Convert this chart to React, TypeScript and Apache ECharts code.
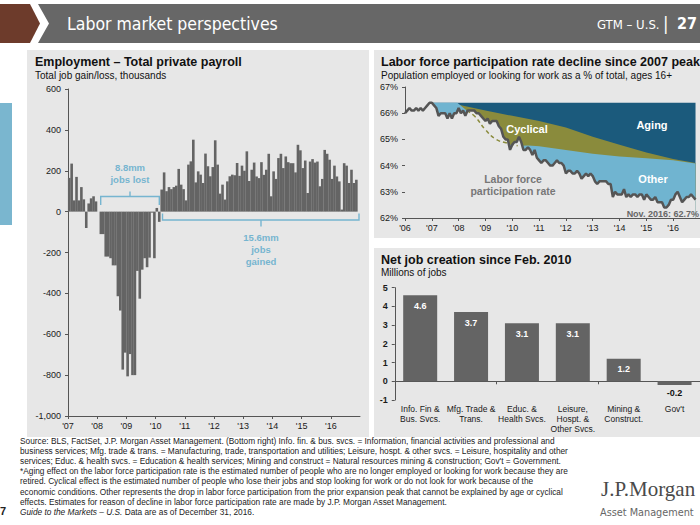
import React, { useEffect, useRef } from "react";
import * as echarts from "echarts";

// ---------- Employment: total private payroll, monthly change (thousands) ----------
const payroll2007 = [165, 235, 55, 170, 55, 120, 60, -80, 40, 65, 75, 50];
const payroll2008 = [0, -110, -110, -220, -220, -228, -263, -263, -414, -484, -773, -690];
const payroll2009 = [-806, -697, -800, -800, -290, -426, -284, -228, -272, -225, -5, -228];
const payroll2010 = [18, -50, 108, 192, 100, 120, 110, 120, 127, 209, 132, 110];
const payroll2011 = [55, 230, 246, 352, 143, 197, 181, 140, 284, 222, 173, 218];
const payroll2012 = [349, 230, 88, 132, 59, 148, 173, 181, 178, 238, 175, 225];
const payroll2013 = [200, 295, 150, 205, 240, 172, 164, 242, 180, 205, 283, 75];
const payroll2014 = [197, 160, 262, 283, 213, 270, 242, 237, 237, 192, 327, 300];
const payroll2015 = [213, 250, 91, 245, 257, 240, 245, 124, 160, 302, 283, 254];
const payroll2016 = [160, 225, 172, 148, 10, 237, 225, 140, 205, 140, 156];
const payrollStartYear = 2007;

// ---------- Labor force participation rate, monthly (%) ----------
const lfpr2006 = [66.0, 66.1, 66.2, 66.1, 66.1, 66.2, 66.1, 66.2, 66.1, 66.2, 66.3, 66.4];
const lfpr2007 = [66.4, 66.3, 66.2, 65.9, 66.0, 66.0, 66.0, 65.8, 66.0, 65.8, 66.0, 66.0];
const lfpr2008 = [66.2, 66.0, 66.1, 65.9, 66.1, 66.1, 66.1, 66.1, 66.0, 66.0, 65.9, 65.8];
const lfpr2009 = [65.7, 65.8, 65.6, 65.7, 65.7, 65.7, 65.5, 65.4, 65.1, 65.0, 65.0, 64.6];
const lfpr2010 = [64.8, 64.9, 64.9, 65.1, 64.9, 64.6, 64.6, 64.7, 64.6, 64.4, 64.6, 64.3];
const lfpr2011 = [64.2, 64.1, 64.2, 64.2, 64.1, 64.0, 64.0, 64.1, 64.2, 64.1, 64.1, 64.0];
const lfpr2012 = [63.7, 63.8, 63.8, 63.7, 63.7, 63.8, 63.7, 63.5, 63.6, 63.7, 63.6, 63.7];
const lfpr2013 = [63.6, 63.4, 63.3, 63.4, 63.4, 63.4, 63.4, 63.3, 63.3, 62.8, 63.0, 62.9];
const lfpr2014 = [62.9, 62.9, 63.1, 62.8, 62.9, 62.8, 62.9, 62.9, 62.8, 62.9, 62.9, 62.7];
const lfpr2015 = [62.9, 62.8, 62.7, 62.7, 62.8, 62.6, 62.6, 62.6, 62.4, 62.4, 62.5, 62.7];
const lfpr2016 = [62.7, 62.9, 63.0, 62.8, 62.6, 62.7, 62.8, 62.8, 62.9, 62.8, 62.7];
const lfprStartYear = 2006;

// boundary between "Aging" and "Cyclical" (year, %)
const agingX = [2007.0, 2008.0, 2009.0, 2010.0, 2011.0, 2012.0, 2013.0, 2014.0, 2015.0, 2016.0, 2016.83];
const agingY = [66.4, 66.32, 66.1, 65.9, 65.7, 65.45, 65.1, 64.8, 64.5, 64.25, 64.1];
// boundary between "Cyclical" and "Other" (year, %)
const cyclicalX = [2007.0, 2007.95, 2008.3, 2008.6, 2009.0, 2009.4, 2009.8, 2010.2, 2010.6, 2011.0, 2012.0, 2013.0, 2014.0, 2015.0, 2016.0, 2016.83];
const cyclicalY = [66.4, 66.4, 66.1, 65.88, 65.37, 65.0, 64.86, 64.76, 64.77, 64.74, 64.6, 64.45, 64.35, 64.28, 64.2, 64.08];

// ---------- Net job creation since Feb. 2010 (millions) ----------
const sectorLabels = [
  "Info. Fin &\nBus. Svcs.",
  "Mfg. Trade &\nTrans.",
  "Educ. &\nHealth Svcs.",
  "Leisure,\nHospt. &\nOther Svcs.",
  "Mining &\nConstruct.",
  "Gov't",
];
const sectorValues = [4.6, 3.7, 3.1, 3.1, 1.2, -0.2];

const footerLines = [
  "Source: BLS, FactSet, J.P. Morgan Asset Management. (Bottom right) Info. fin. & bus. svcs. = Information, financial activities and professional and",
  "business services; Mfg. trade & trans. = Manufacturing, trade, transportation and utilities; Leisure, hospt. & other svcs. = Leisure, hospitality and other",
  "services; Educ. & health svcs. = Education & health services; Mining and construct = Natural resources mining & construction; Gov't = Government.",
  "*Aging effect on the labor force participation rate is the estimated number of people who are no longer employed or looking for work because they are",
  "retired. Cyclical effect is the estimated number of people who lose their jobs and stop looking for work or do not look for work because of the",
  "economic conditions. Other represents the drop in labor force participation from the prior expansion peak that cannot be explained by age or cyclical",
  "effects. Estimates for reason of decline in labor force participation rate are made by J.P. Morgan Asset Management.",
];

const FONT = "'Liberation Sans', Arial, Helvetica, sans-serif";
const NARROW = "'Liberation Sans Narrow', 'Arial Narrow', 'DejaVu Sans Condensed', 'Liberation Sans', sans-serif";
const SERIF = "'Liberation Serif', 'DejaVu Serif', serif";
const PANEL = "#e7e7e7";
const BAR = "#646464";
const AXIS = "#555555";
const TEAL = "#1b5a7c";
const OLIVE = "#8a8b3c";
const LIGHTBLUE = "#70b4d0";
const ANNOT = "#76b5d0";

function buildOption() {
  const payroll = [
    ...payroll2007, ...payroll2008, ...payroll2009, ...payroll2010, ...payroll2011,
    ...payroll2012, ...payroll2013, ...payroll2014, ...payroll2015, ...payroll2016,
  ];
  const payrollData = payroll.map((v, i) => [payrollStartYear + (i + 0.5) / 12, v]);

  const lfpr = [
    ...lfpr2006, ...lfpr2007, ...lfpr2008, ...lfpr2009, ...lfpr2010, ...lfpr2011,
    ...lfpr2012, ...lfpr2013, ...lfpr2014, ...lfpr2015, ...lfpr2016,
  ];
  const lfprData = lfpr.map((v, i) => [lfprStartYear + i / 12, v]);
  const peak = Math.max(...lfpr);
  const peakIdx = lfpr.indexOf(peak);
  const lastX = lfprData[lfprData.length - 1][0];
  const peakData = [[lfprData[peakIdx][0], peak], [lastX, peak]];
  const agingData = agingX.map((x, i) => [x, agingY[i]]);
  const cyclicalData = cyclicalX.map((x, i) => [x, cyclicalY[i]]);
  const dashedData = cyclicalData.filter((p) => p[0] >= 2008.3 && p[0] <= 2010.2);

  const yearFmt = (v: number) => "'" + String(v).slice(2);
  const tickLabel = { fontSize: 9, color: "#1a1a1a", fontFamily: FONT };
  const axisLine = { show: true, onZero: false, lineStyle: { color: AXIS, width: 1 } };
  const axisTick = { show: true, length: 3, lineStyle: { color: AXIS, width: 1 } };

  const areaSeries = (data: number[][], color: string) => ({
    type: "line",
    xAxisIndex: 1,
    yAxisIndex: 1,
    data,
    showSymbol: false,
    symbol: "none",
    lineStyle: { width: 0, opacity: 0 },
    areaStyle: { color, opacity: 1, origin: "start" },
    silent: true,
  });

  const txt = (x: number, y: number, text: string, s: any = {}, z = 50) => ({
    type: "text",
    x,
    y,
    z,
    silent: true,
    style: {
      text,
      fill: "#222",
      fontFamily: FONT,
      fontSize: 10,
      verticalAlign: "middle",
      align: "left",
      ...s,
    },
  });

  const graphic: any[] = [
    // panels
    { type: "rect", z: -10, silent: true, shape: { x: 27, y: 50, width: 342, height: 387 }, style: { fill: PANEL } },
    { type: "rect", z: -10, silent: true, shape: { x: 374, y: 50, width: 326, height: 188 }, style: { fill: PANEL } },
    { type: "rect", z: -10, silent: true, shape: { x: 374, y: 248, width: 326, height: 189 }, style: { fill: PANEL } },
    // side tab
    { type: "rect", z: -10, silent: true, shape: { x: 0, y: 103, width: 12, height: 122 }, style: { fill: "#7ab6cf" } },
    // header band
    { type: "polygon", z: -10, silent: true, shape: { points: [[0, 4], [30, 4], [40, 23.5], [30, 43], [0, 43]] }, style: { fill: "#6d3b2b" } },
    { type: "polygon", z: -10, silent: true, shape: { points: [[38, 4], [700, 4], [700, 43], [38, 43], [49, 23.5]] }, style: { fill: "#676767" } },
    txt(67, 23.5, "Labor market perspectives", { fill: "#ffffff", fontSize: 17.5, fontFamily: NARROW }),
    txt(597, 24.5, "GTM – U.S.", { fill: "#ffffff", fontSize: 13, fontFamily: NARROW }),
    txt(663, 23.5, "|", { fill: "#ffffff", fontSize: 18, fontFamily: NARROW }),
    txt(677, 23.5, "27", { fill: "#ffffff", fontSize: 16, fontWeight: "bold", fontFamily: NARROW }),
    // panel titles
    txt(35, 62, "Employment – Total private payroll", { fontSize: 12.5, fontWeight: "bold", fill: "#111" }),
    txt(35, 75.5, "Total job gain/loss, thousands", { fontSize: 10, fill: "#111" }),
    txt(381, 62, "Labor force participation rate decline since 2007 peak", { fontSize: 12.5, fontWeight: "bold", fill: "#111" }),
    txt(381, 75.5, "Population employed or looking for work as a % of total, ages 16+", { fontSize: 10, fill: "#111" }),
    txt(381, 260, "Net job creation since Feb. 2010", { fontSize: 12.5, fontWeight: "bold", fill: "#111" }),
    txt(381, 272.5, "Millions of jobs", { fontSize: 10, fill: "#111" }),
    // left annotations
    {
      type: "polyline", z: 40, silent: true,
      shape: { points: [[100.7, 205], [100.7, 196.5], [130, 196.5], [130, 191.5], [130, 196.5], [159.3, 196.5], [159.3, 205]] },
      style: { stroke: ANNOT, lineWidth: 1.4, fill: null },
    },
    {
      type: "polyline", z: 40, silent: true,
      shape: { points: [[162.5, 213.5], [162.5, 220], [261, 220], [261, 226.5], [261, 220], [359, 220], [359, 213.5]] },
      style: { stroke: ANNOT, lineWidth: 1.4, fill: null },
    },
    txt(130, 167.5, "8.8mm", { fill: ANNOT, fontSize: 9.5, fontWeight: "bold", align: "center" }),
    txt(130, 179.5, "jobs lost", { fill: ANNOT, fontSize: 9.5, fontWeight: "bold", align: "center" }),
    txt(261, 237, "15.6mm", { fill: ANNOT, fontSize: 9.5, fontWeight: "bold", align: "center" }),
    txt(261, 249, "jobs", { fill: ANNOT, fontSize: 9.5, fontWeight: "bold", align: "center" }),
    txt(261, 261, "gained", { fill: ANNOT, fontSize: 9.5, fontWeight: "bold", align: "center" }),
    // right-top labels
    txt(652, 125, "Aging", { fill: "#ffffff", fontSize: 11, fontWeight: "bold", align: "center" }),
    txt(527, 129, "Cyclical", { fill: "#ffffff", fontSize: 11, fontWeight: "bold", align: "center" }),
    txt(653, 179, "Other", { fill: "#ffffff", fontSize: 11, fontWeight: "bold", align: "center" }),
    txt(513, 178.5, "Labor force", { fill: "#777777", fontSize: 10.5, fontWeight: "bold", align: "center" }),
    txt(513, 191, "participation rate", { fill: "#777777", fontSize: 10.5, fontWeight: "bold", align: "center" }),
    txt(699, 213.5, "Nov. 2016: 62.7%", { fill: "#666666", fontSize: 9, fontWeight: "bold", align: "right" }),
    // footer
    ...footerLines.map((l, i) => txt(20, 441 + i * 10.1, l, { fontSize: 8.3, fill: "#222" })),
    {
      type: "text", x: 20, y: 441 + 7 * 10.1, z: 50, silent: true,
      style: {
        text: "{i|Guide to the Markets – U.S.}{n| Data are as of December 31, 2016.}",
        verticalAlign: "middle",
        fill: "#222",
        fontSize: 8.3,
        fontFamily: FONT,
        rich: {
          i: { fontSize: 8.3, fontFamily: FONT, fontStyle: "italic", fill: "#222" },
          n: { fontSize: 8.3, fontFamily: FONT, fill: "#222" },
        },
      },
    },
    txt(0, 511, "7", { fontSize: 11, fontWeight: "bold", fill: "#222" }),
    txt(601, 489, "J.P.Morgan", { fontSize: 21, fontFamily: SERIF, fill: "#4a4a4a" }),
    txt(600, 512, "Asset Management", { fontSize: 10.8, fontFamily: NARROW, fill: "#666666" }),
  ];

  return {
    animation: false,
    backgroundColor: "#ffffff",
    textStyle: { fontFamily: FONT },
    grid: [
      { left: 68, top: 89, width: 292, height: 327 },
      { left: 405, top: 87, width: 301.7, height: 131 },
      { left: 394.75, top: 287.7, width: 309, height: 112.3 },
    ],
    xAxis: [
      {
        type: "value", gridIndex: 0, min: 2007, max: 2017, interval: 1,
        axisLine, axisTick,
        axisLabel: { ...tickLabel, margin: 5, showMaxLabel: false, formatter: yearFmt },
        splitLine: { show: false },
      },
      {
        type: "value", gridIndex: 1, min: 2006, max: 2017, interval: 1, z: 5,
        axisLine, axisTick,
        axisLabel: { ...tickLabel, margin: 5, showMaxLabel: false, formatter: yearFmt },
        splitLine: { show: false },
      },
      {
        type: "category", gridIndex: 2, data: sectorLabels,
        axisLine: { show: true, onZero: true, lineStyle: { color: AXIS, width: 1 } },
        axisTick: { show: true, length: 3, lineStyle: { color: AXIS } },
        axisLabel: { show: false },
      },
      {
        type: "category", gridIndex: 2, data: sectorLabels, position: "bottom",
        axisLine: { show: false, onZero: false },
        axisTick: { show: false },
        axisLabel: { ...tickLabel, fontSize: 8.5, lineHeight: 10, margin: 4, interval: 0 },
      },
    ],
    yAxis: [
      {
        type: "value", gridIndex: 0, min: -1000, max: 600, interval: 200,
        axisLine, axisTick,
        axisLabel: { ...tickLabel, margin: 7, formatter: (v: number) => v.toLocaleString("en-US") },
        splitLine: { show: false },
      },
      {
        type: "value", gridIndex: 1, min: 62, max: 67, interval: 1,
        axisLine, axisTick,
        axisLabel: { ...tickLabel, margin: 7, formatter: "{value}%" },
        splitLine: { show: false },
      },
      {
        type: "value", gridIndex: 2, min: -1, max: 5, interval: 1,
        axisLine, axisTick,
        axisLabel: { ...tickLabel, margin: 7, fontWeight: "bold" },
        splitLine: { show: false },
      },
    ],
    series: [
      {
        type: "bar",
        xAxisIndex: 0,
        yAxisIndex: 0,
        data: payrollData,
        barWidth: 2.6,
        itemStyle: { color: BAR },
        silent: true,
      },
      areaSeries(peakData, TEAL),
      areaSeries(agingData, OLIVE),
      areaSeries(cyclicalData, LIGHTBLUE),
      areaSeries(lfprData, PANEL),
      {
        type: "line",
        xAxisIndex: 1,
        yAxisIndex: 1,
        data: dashedData,
        showSymbol: false,
        symbol: "none",
        smooth: true,
        lineStyle: { color: OLIVE, width: 1.5, type: [4, 3] },
        silent: true,
      },
      {
        type: "line",
        xAxisIndex: 1,
        yAxisIndex: 1,
        data: lfprData,
        showSymbol: false,
        symbol: "none",
        lineStyle: { color: "#555555", width: 2.5 },
        silent: true,
      },
      {
        type: "bar",
        xAxisIndex: 2,
        yAxisIndex: 2,
        barWidth: 34,
        data: sectorValues.map((v) =>
          v < 0
            ? { value: v, label: { position: "bottom", distance: 3, color: "#111" } }
            : v
        ),
        itemStyle: { color: BAR },
        label: {
          show: true,
          position: "insideTop",
          distance: 6,
          color: "#ffffff",
          fontWeight: "bold",
          fontSize: 9,
          fontFamily: FONT,
          formatter: (p: any) => Number(p.value).toFixed(1),
        },
        silent: true,
      },
    ],
    graphic: { elements: graphic },
  };
}

export default function App() {
  const ref = useRef<HTMLDivElement>(null);
  useEffect(() => {
    if (!ref.current) return;
    const chart = echarts.init(ref.current, null, { renderer: "svg" });
    chart.setOption(buildOption() as any);
    return () => chart.dispose();
  }, []);
  return (
    <div
      ref={ref}
      style={{ position: "absolute", left: 0, top: 0, width: 700, height: 525, background: "#ffffff" }}
    />
  );
}
